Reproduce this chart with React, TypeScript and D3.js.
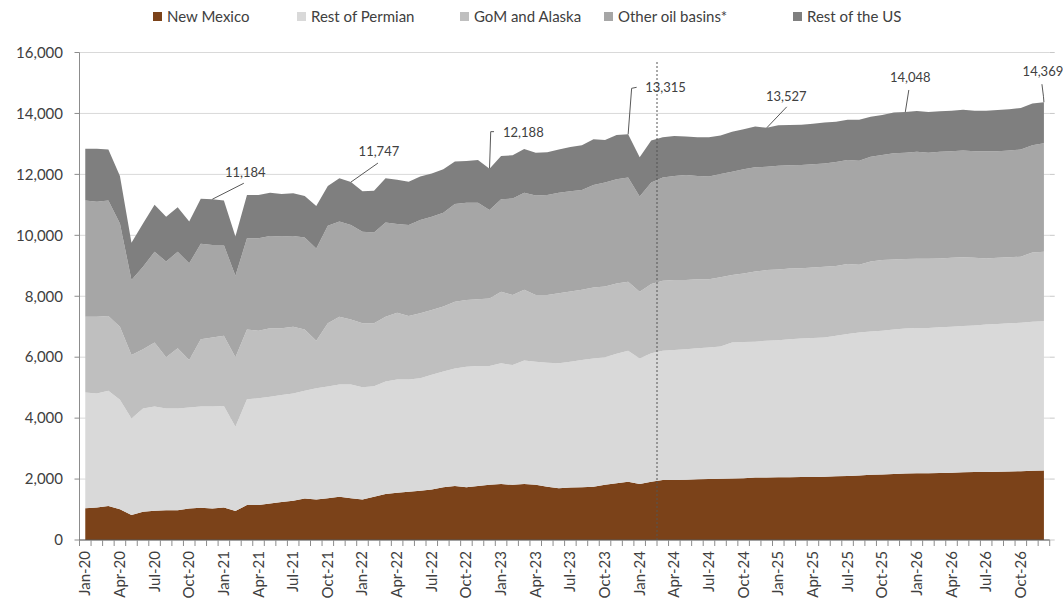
import React from "react";
import * as d3 from "d3";

// ---------- DATA ----------
const MONTH_NAMES = ["Jan", "Feb", "Mar", "Apr", "May", "Jun", "Jul", "Aug", "Sep", "Oct", "Nov", "Dec"];
const YEARS = ["20", "21", "22", "23", "24", "25", "26"];
const categories: string[] = YEARS.flatMap((y) => MONTH_NAMES.map((m) => `${m}-${y}`));

const newMexico = [
  1040, 1070, 1120, 1010, 820, 930, 960, 980, 980, 1030, 1060, 1030,
  1070, 950, 1150, 1150, 1200, 1250, 1290, 1360, 1330, 1370, 1420, 1370,
  1330, 1420, 1510, 1550, 1580, 1620, 1660, 1730, 1770, 1730, 1770, 1810,
  1840, 1810, 1840, 1810, 1750, 1700, 1720, 1730, 1750, 1810, 1860, 1910,
  1840, 1910, 1970, 1970, 1980, 1990, 2000, 2010, 2020, 2030, 2050, 2050,
  2060, 2060, 2070, 2070, 2080, 2090, 2100, 2120, 2140, 2150, 2170, 2180,
  2190, 2190, 2200, 2210, 2220, 2230, 2230, 2240, 2250, 2260, 2270, 2280,
];
const restOfPermian = [
  3800, 3740, 3780, 3590, 3170, 3390, 3420, 3340, 3340, 3320, 3320, 3350,
  3330, 2770, 3470, 3500, 3500, 3510, 3520, 3540, 3650, 3670, 3680, 3730,
  3680, 3630, 3690, 3720, 3690, 3690, 3760, 3800, 3860, 3960, 3940, 3900,
  3960, 3930, 4050, 4040, 4070, 4100, 4130, 4180, 4210, 4190, 4250, 4300,
  4120, 4220, 4240, 4270, 4280, 4300, 4320, 4340, 4460, 4470, 4460, 4490,
  4500, 4530, 4540, 4560, 4570, 4610, 4660, 4690, 4700, 4720, 4740, 4760,
  4770, 4770, 4780, 4790, 4800, 4810, 4840, 4850, 4860, 4870, 4890, 4900,
];
const gomAlaska = [
  2490, 2520, 2450, 2400, 2080, 1940, 2100, 1680, 1970, 1560, 2210, 2270,
  2300, 2280, 2290, 2220, 2250, 2190, 2190, 2010, 1560, 2070, 2230, 2140,
  2100, 2060, 2130, 2190, 2080, 2130, 2130, 2130, 2190, 2190, 2190, 2220,
  2350, 2300, 2320, 2190, 2220, 2300, 2310, 2300, 2330, 2320, 2310, 2270,
  2190, 2270, 2300, 2290, 2270, 2270, 2240, 2270, 2220, 2250, 2300, 2320,
  2320, 2320, 2310, 2310, 2320, 2290, 2300, 2220, 2300, 2320, 2300, 2280,
  2270, 2270, 2260, 2260, 2260, 2220, 2170, 2170, 2170, 2170, 2280, 2280,
];
const otherBasins = [
  3810, 3770, 3790, 3390, 2460, 2710, 2980, 3140, 3170, 3170, 3130, 3030,
  2980, 2670, 2990, 3030, 3030, 3010, 2980, 3020, 3030, 3200, 3120, 3100,
  3010, 2980, 3090, 2910, 2990, 3060, 3060, 3080, 3210, 3190, 3170, 2900,
  3030, 3170, 3190, 3270, 3280, 3300, 3290, 3280, 3360, 3410, 3420, 3420,
  3120, 3330, 3390, 3420, 3450, 3390, 3370, 3390, 3390, 3420, 3420, 3390,
  3400, 3390, 3390, 3390, 3390, 3420, 3410, 3420, 3440, 3450, 3480, 3490,
  3510, 3480, 3500, 3500, 3500, 3500, 3520, 3500, 3500, 3520, 3520, 3560,
];
const restOfUS = [
  1700, 1740, 1680, 1560, 1230, 1420, 1540, 1470, 1460, 1370, 1480, 1504,
  1460, 1290, 1420, 1420, 1420, 1400, 1400, 1360, 1390, 1310, 1420, 1407,
  1330, 1370, 1450, 1450, 1420, 1430, 1420, 1430, 1390, 1370, 1400, 1358,
  1420, 1420, 1430, 1400, 1410, 1420, 1450, 1470, 1500, 1400, 1450, 1415,
  1290, 1380, 1320, 1310, 1260, 1270, 1290, 1270, 1310, 1310, 1340, 1277,
  1330, 1320, 1320, 1330, 1340, 1320, 1320, 1340, 1310, 1310, 1340, 1338,
  1340, 1340, 1330, 1330, 1340, 1330, 1330, 1350, 1360, 1360, 1370, 1349,
];

const seriesNames = ["New Mexico", "Rest of Permian", "GoM and Alaska", "Other oil basins*", "Rest of the US"];
const seriesValues = [newMexico, restOfPermian, gomAlaska, otherBasins, restOfUS];
const yTicks = [0, 2000, 4000, 6000, 8000, 10000, 12000, 14000, 16000];
const annotationCats = ["Dec-20", "Dec-21", "Dec-22", "Dec-23", "Dec-24", "Dec-25", "Dec-26"];
const annotationLabels = ["11,184", "11,747", "12,188", "13,315", "13,527", "14,048", "14,369"];
const forecastStart = "Mar-24";

// ---------- STYLE / LAYOUT ----------
const colors = ["#7B4219", "#D9D9D9", "#BFBFBF", "#A6A6A6", "#7F7F7F"];
const W = 1063;
const H = 602;
const plotLeft = 79.5;
const plotRight = 1049.7;
const plotTop = 52.5;
const plotBottom = 540;
const FONT = "Lato, 'Liberation Sans', Arial, sans-serif";
const textColor = "#404040";
const annotationLayout = [
  { tx: 33, ty: -22, anchor: "middle", path: [[0, 0], [31.5, -16]] },
  { tx: 28, ty: -26, anchor: "middle", path: [[0, 0], [27, -19]] },
  { tx: 13.5, ty: -31.5, anchor: "start", path: [[0, 0], [1.2, -37], [4.5, -37]] },
  { tx: 17, ty: -42, anchor: "start", path: [[0, 0], [3.5, -46], [8.5, -47]] },
  { tx: 19.5, ty: -27, anchor: "middle", path: [[0, 0], [20, -21]] },
  { tx: 5, ty: -30, anchor: "middle", path: [[0, 0], [3.5, -22]] },
  { tx: -1, ty: -26, anchor: "middle", path: [[0, 0], [-0.5, -6], [-2, -18]] },
];
const legendX = [153, 297, 460, 604, 793];

export default function App() {
  const x = d3.scaleBand<string>().domain(categories).range([plotLeft, plotRight]).padding(0);
  const bw = x.bandwidth();
  const cx = (c: string) => (x(c) as number) + bw / 2;
  const y = d3.scaleLinear().domain([0, 16000]).range([plotBottom, plotTop]);

  const table = categories.map((c, i) => {
    const row: any = { cat: c };
    seriesNames.forEach((s, k) => (row[s] = seriesValues[k][i]));
    return row;
  });
  const stacked = d3.stack<any>().keys(seriesNames)(table);
  const area = d3
    .area<any>()
    .x((d) => cx(d.data.cat))
    .y0((d) => y(d[0]))
    .y1((d) => y(d[1]))
    .curve(d3.curveLinear);

  const totals = categories.map((_, i) => seriesValues.reduce((a, s) => a + s[i], 0));
  const forecastX = x(forecastStart) as number;

  return (
    <svg
      width={W}
      height={H}
      style={{ position: "absolute", left: 0, top: 0, background: "#fff" }}
      fontFamily={FONT}
    >
      {yTicks.map((t) => (
        <line key={"g" + t} x1={plotLeft} x2={plotRight} y1={y(t)} y2={y(t)} stroke="#D9D9D9" strokeWidth={1} />
      ))}
      {stacked.map((s, k) => (
        <path key={s.key} d={area(s) as string} fill={colors[k]} stroke="none" />
      ))}
      <line
        x1={forecastX}
        x2={forecastX}
        y1={62}
        y2={plotBottom}
        stroke="#555"
        strokeWidth={1}
        strokeDasharray="2,2"
      />
      <line x1={plotLeft} x2={plotLeft} y1={plotTop} y2={plotBottom} stroke="#8C8C8C" />
      {yTicks.map((t) => (
        <g key={"yt" + t}>
          <line x1={plotLeft - 5} x2={plotLeft} y1={y(t)} y2={y(t)} stroke="#8C8C8C" />
          <text x={63} y={y(t)} dy="0.35em" textAnchor="end" fontSize={15} fill={textColor}>
            {d3.format(",")(t)}
          </text>
        </g>
      ))}
      {yTicks.map((t) => (
        <line key={"rt" + t} x1={plotRight} x2={plotRight + 5} y1={y(t)} y2={y(t)} stroke="#C8C8C8" />
      ))}
      <line x1={plotLeft} x2={plotRight} y1={plotBottom} y2={plotBottom} stroke="#595959" />
      {categories.map((c) => (
        <line
          key={"xt" + c}
          x1={x(c) as number}
          x2={x(c) as number}
          y1={plotBottom}
          y2={plotBottom + 6}
          stroke="#8C8C8C"
        />
      ))}
      <line x1={plotRight} x2={plotRight} y1={plotBottom} y2={plotBottom + 6} stroke="#8C8C8C" />
      {categories.map((c, i) =>
        i % 3 === 0 ? (
          <text
            key={"xl" + c}
            transform={`translate(${cx(c) + 5},${plotBottom + 11}) rotate(-90)`}
            textAnchor="end"
            fontSize={15}
            fill={textColor}
          >
            {c}
          </text>
        ) : null
      )}
      {annotationCats.map((c, k) => {
        const i = categories.indexOf(c);
        const px = cx(c);
        const py = y(totals[i]);
        const L = annotationLayout[k];
        const d = d3.line()(L.path.map(([dx, dy]) => [px + dx, py + dy]) as [number, number][]);
        return (
          <g key={"an" + c}>
            <path d={d as string} fill="none" stroke="#595959" strokeWidth={1} />
            <text x={px + L.tx} y={py + L.ty} textAnchor={L.anchor as any} fontSize={13} fill={textColor}>
              {annotationLabels[k]}
            </text>
          </g>
        );
      })}
      {seriesNames.map((s, k) => (
        <g key={"lg" + s}>
          <rect x={legendX[k]} y={12} width={9} height={9} fill={colors[k]} />
          <text x={legendX[k] + 14} y={17} dy="0.35em" fontSize={15} fill={textColor}>
            {s}
          </text>
        </g>
      ))}
    </svg>
  );
}
